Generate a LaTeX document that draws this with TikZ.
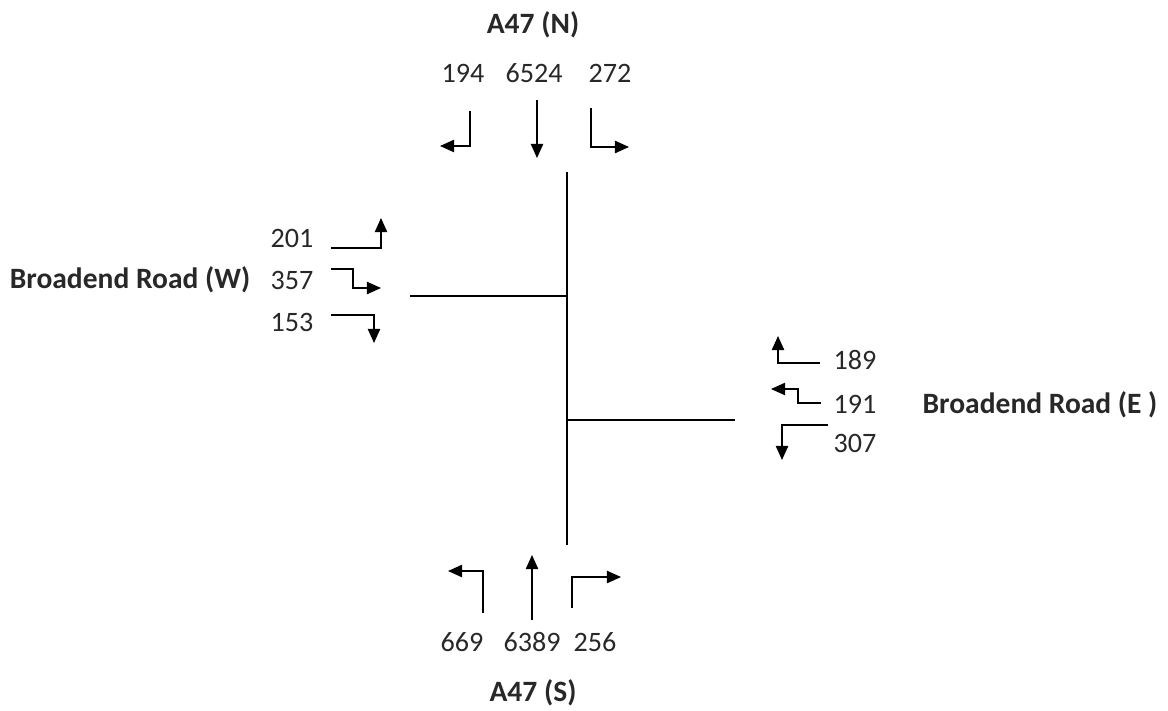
\documentclass[tikz,border=0pt]{standalone}
\usepackage{fontspec}
\setmainfont{Carlito}
\usetikzlibrary{arrows.meta}
\definecolor{mytext}{RGB}{40,40,40}
\tikzset{
  flow/.style={font=\fontsize{16}{19}\selectfont, text=mytext, inner sep=0pt},
  roadname/.style={font=\bfseries\fontsize{16.8}{20}\selectfont, text=mytext, inner sep=0pt},
  turn/.style={-{Triangle[length=8pt,width=7pt]}, line width=0.8pt},
  street/.style={line width=0.9pt}
}

\begin{document}
\begin{tikzpicture}[x=0.02cm, y=-0.02cm]
  \useasboundingbox (0,0) rectangle (1168,710);
  % road layout
  \coordinate (nEnd) at (567,172);
  \coordinate (sEnd) at (567,545);
  \coordinate (wEnd) at (410,296);
  \coordinate (wJoin) at (567,296);
  \coordinate (eEnd) at (735,420);
  \coordinate (eJoin) at (567,420);
  \draw[street] (nEnd) -- (sEnd);
  \draw[street] (wEnd) -- (wJoin);
  \draw[street] (eJoin) -- (eEnd);
  % north approach
  \node[roadname] (nName) at (533,25) {A47 (N)};
  \node[flow] (nLeft) at (463,73) {194};
  \node[flow] (nAhead) at (534,73) {6524};
  \node[flow] (nRight) at (610,73) {272};
  \draw[turn] (470,111) -- (470,146) -- (440,146);
  \draw[turn] (537,100) -- (537,158);
  \draw[turn] (591,108) -- (591,147) -- (629,147);
  % west approach
  \node[roadname] (wName) at (130,280) {Broadend Road (W)};
  \node[flow] (wLeft) at (292,238) {201};
  \node[flow] (wAhead) at (292,280) {357};
  \node[flow] (wRight) at (292,322) {153};
  \draw[turn] (331,248) -- (381,248) -- (381,218);
  \draw[turn] (331,269) -- (353,269) -- (353,288) -- (381,288);
  \draw[turn] (331,315) -- (374,315) -- (374,343);
  % east approach
  \node[roadname] (eName) at (1040,405) {Broadend Road (E )};
  \node[flow] (eRight) at (855,360) {189};
  \node[flow] (eAhead) at (855,404) {191};
  \node[flow] (eLeft) at (855,443) {307};
  \draw[turn] (820,363) -- (778,363) -- (778,336);
  \draw[turn] (821,403) -- (798,403) -- (798,389) -- (771,389);
  \draw[turn] (828,425) -- (782,425) -- (782,460);
  % south approach
  \node[roadname] (sName) at (533,693) {A47 (S)};
  \node[flow] (sLeft) at (462,642) {669};
  \node[flow] (sAhead) at (532,642) {6389};
  \node[flow] (sRight) at (595,642) {256};
  \draw[turn] (483,613) -- (483,571) -- (448,571);
  \draw[turn] (532,620) -- (532,555);
  \draw[turn] (572,608) -- (572,577) -- (621,577);
\end{tikzpicture}
\end{document}
